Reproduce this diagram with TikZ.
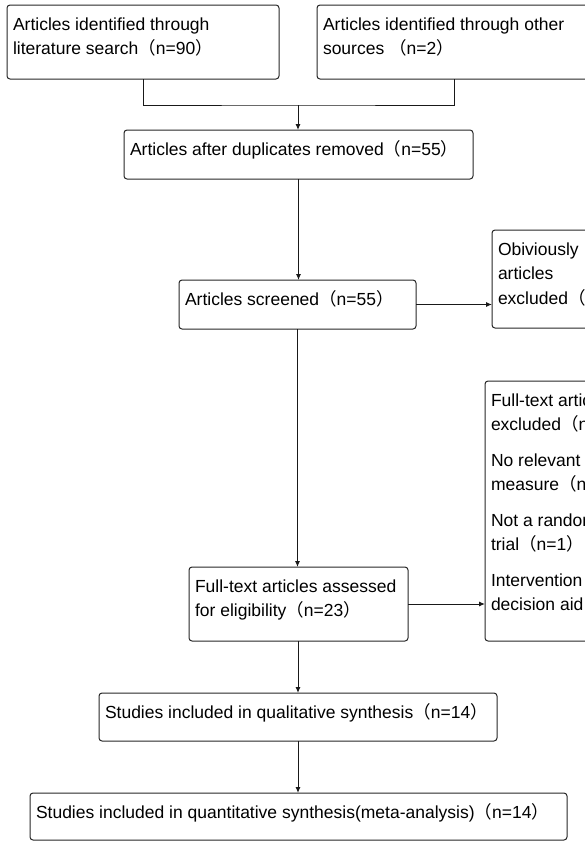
\documentclass[tikz,border=0pt]{standalone}
\usepackage{fontspec}
\setmainfont{Liberation Sans}
\newfontfamily\cjk{Noto Sans CJK SC}
\usetikzlibrary{arrows.meta}

\newcommand{\lp}{{\cjk （}}
\newcommand{\rp}{{\cjk ）}}
\newcommand{\cell}[3]{\parbox[c][#2][t]{#1}{\fontsize{17.5pt}{24.5pt}\selectfont\raggedright\rule{0pt}{25pt}#3}}

\begin{document}
\begin{tikzpicture}[x=1pt,y=-1pt,
    stage/.style={draw=black!85,rounded corners=3pt,line width=1pt,inner xsep=6pt,inner ysep=0pt,outer sep=0pt,anchor=north west},
    link/.style={line width=1pt,draw=black!90},
    >={Latex[length=6pt,width=5pt]}]
    \useasboundingbox (0,0) rectangle (585,841);
    \clip (0,0) rectangle (585,841);
    \node[stage] (lit) at (7,5) {\cell{260pt}{74pt}{Articles identified through\\literature search\lp n=90\rp}};
    \node[stage] (oth) at (317,5) {\cell{262pt}{74pt}{Articles identified through other\\sources \lp n=2\rp}};
    \node[stage] (dup) at (124,130) {\cell{337pt}{49pt}{Articles after duplicates removed\lp n=55\rp}};
    \node[stage] (scr) at (179,280) {\cell{225pt}{49pt}{Articles screened\lp n=55\rp}};
    \node[stage] (obv) at (492,230) {\cell{108pt}{98pt}{Obiviously\\articles\\excluded\lp n=32\rp}};
    \node[stage] (ful) at (189,567) {\cell{207pt}{74pt}{Full-text articles assessed\\for eligibility\lp n=23\rp}};
    \node[stage] (exc) at (485,381) {\cell{180pt}{260pt}{Full-text articles\\excluded\lp n=9\rp\\[11pt]No relevant outcome\\measure\lp n=6\rp\\[11pt]Not a randomized\\trial\lp n=1\rp\\[11pt]Intervention not a\\decision aid\lp n=2\rp}};
    \node[stage] (qua) at (99,693) {\cell{386pt}{48pt}{Studies included in qualitative synthesis\lp n=14\rp}};
    \node[stage] (met) at (30,793) {\cell{525pt}{47pt}{Studies included in quantitative synthesis(meta-analysis)\lp n=14\rp}};
    \coordinate (join) at (298,105);
    % connectors
    \draw[link] (lit.south) |- (join) -| (oth.south);
    \draw[link,->] (join) -- (join |- dup.north);
    \draw[link,->] (dup.south) -- (dup.south |- scr.north);
    \draw[link,->] (scr.east) -- (scr.east -| obv.west);
    \draw[link,->] (scr.south) -- (scr.south |- ful.north);
    \draw[link,->] (ful.east) -- (ful.east -| exc.west);
    \draw[link,->] (qua.north |- ful.south) -- (qua.north);
    \draw[link,->] (qua.south) -- (qua.south |- met.north);
\end{tikzpicture}
\end{document}
